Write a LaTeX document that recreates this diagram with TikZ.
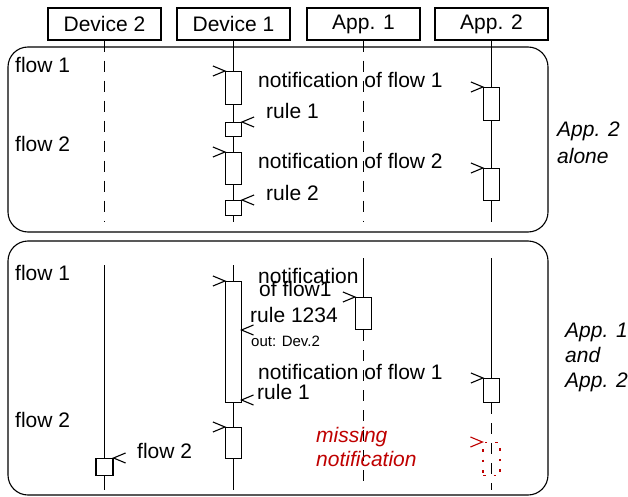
\documentclass[tikz,border=0pt]{standalone}
\usepackage{fontspec}
\setmainfont{Liberation Sans}
% open arrowhead pointing right, tip at #1 (message arriving at a box)
\newcommand\arrin[2][]{\draw[ln,#1] ([shift={(-12,-5)}]#2) -- (#2) -- ([shift={(-12,5)}]#2);}
% open arrowhead pointing left, tip at #1 (rule sent back)
\newcommand\arrout[2][]{\draw[ln,#1] ([shift={(12,-5)}]#2) -- (#2) -- ([shift={(12,5)}]#2);}
\begin{document}
\begin{tikzpicture}[x=1pt,y=-1pt,
  every node/.style={font=\fontsize{21}{25}\selectfont},
  ln/.style={line width=1.1pt, black},
  head/.style={draw, line width=1.1pt, minimum width=113pt, minimum height=32pt, inner sep=0pt},
  act/.style={draw, fill=white, line width=1.1pt, minimum width=16pt, inner sep=0pt, anchor=north},
  lifedash/.style={ln, dash pattern=on 11pt off 9pt},
  frame/.style={ln, rounded corners=20pt},
  lbl/.style={anchor=base west, inner sep=0pt},
  note/.style={lbl, font=\fontsize{21}{25}\selectfont\itshape},
  small/.style={lbl, font=\fontsize{15}{18}\selectfont},
  miss/.style={red!75!black},
]
\useasboundingbox (0,0) rectangle (628,497);

% participants
\node[head] (dev2) at (104.5,24) {Device 2};
\node[head] (dev1) at (233.5,24) {Device 1};
\node[head] (app1) at (363.5,24) {App. 1};
\node[head] (app2) at (491.5,24) {App. 2};

% the two scenarios
\draw[frame] (8,47) rectangle (548,232);
\draw[frame] (8,241) rectangle (548,495);

% ---------- scenario 1: App. 2 alone ----------
\coordinate (t-d2e) at (104.5,222);
\coordinate (t-d1e) at (233.5,222);
\coordinate (t-a1e) at (363.5,222);
\coordinate (t-a2e) at (491.5,222);
\draw[lifedash] (dev2.south) -- (t-d2e);
\draw[ln] (dev1.south) -- (t-d1e);
\draw[lifedash] (app1.south) -- (t-a1e);
\draw[ln] (app2.south) -- (t-a2e);

\node[act, minimum height=33pt] (t-n1) at (233.5,71) {};
\node[act, minimum height=14pt] (t-r1) at (233.5,122) {};
\node[act, minimum height=32pt] (t-n2) at (233.5,152) {};
\node[act, minimum height=15pt] (t-r2) at (233.5,200) {};
\node[act, minimum height=33pt] (t-a1) at (491.5,87) {};
\node[act, minimum height=32pt] (t-a2) at (491.5,168) {};

\arrin{t-n1.north west}
\arrout{t-r1.north east}
\arrin{t-n2.north west}
\arrout{t-r2.north east}
\arrin{t-a1.north west}
\arrin{t-a2.north west}

\node[lbl] (t-f1) at (15,73) {flow 1};
\node[lbl] (t-f2) at (15,152) {flow 2};
\node[lbl] (t-l1) at (258,88) {notification of flow 1};
\node[lbl] (t-l2) at (266,119) {rule 1};
\node[lbl] (t-l3) at (258,168) {notification of flow 2};
\node[lbl] (t-l4) at (266,200) {rule 2};
\node[note] (t-c1) at (557,137) {App. 2};
\node[note] (t-c2) at (557,164) {alone};

% ---------- scenario 2: App. 1 and App. 2 ----------
\coordinate (b-d2s) at (104.5,265);
\coordinate (b-d2e) at (104.5,490);
\coordinate (b-d1s) at (233.5,265);
\coordinate (b-d1e) at (233.5,490);
\coordinate (b-a1s) at (363.5,258);
\coordinate (b-a1e) at (363.5,490);
\coordinate (b-a2s) at (491.5,258);
\coordinate (b-a2e) at (491.5,490);

\node[act, minimum height=32pt] (b-ap1) at (363.5,297) {};
\node[act, minimum height=24pt] (b-ap2) at (491.5,378) {};
\draw[ln] (b-d2s) -- (b-d2e);
\draw[ln] (b-d1s) -- (b-d1e);
\draw[ln] (b-a1s) -- (b-ap1.north);
\draw[lifedash] (b-ap1.south) -- (b-a1e);
\draw[ln] (b-a2s) -- (b-ap2.north);
\draw[lifedash] (b-ap2.south) -- (b-a2e);

\node[act, minimum height=121pt] (b-big) at (233.5,281) {};
\node[act, minimum height=31pt] (b-d1b) at (233.5,427) {};
\node[act, minimum height=17pt, minimum width=17pt] (b-d2b) at (104.5,458) {};
\node[draw=red!75!black, line width=1.1pt, dash pattern=on 2.5pt off 8pt,
      minimum width=17pt, minimum height=33pt, inner sep=0pt, anchor=north] (b-lost) at (491.5,442) {};

\coordinate (b-rk) at (241.5,330);
\coordinate (b-r1) at (241.5,400);
\arrin{b-big.north west}
\arrin{b-ap1.north west}
\arrin{b-ap2.north west}
\arrin{b-d1b.north west}
\arrin[miss]{b-lost.north west}
\arrout{b-rk}
\arrout{b-r1}
\arrout{b-d2b.north east}

\node[lbl] (b-f1) at (15,280) {flow 1};
\node[lbl] (b-f2) at (15,427) {flow 2};
\node[lbl] (b-f2b) at (137,458) {flow 2};
\node[lbl] (b-n1a) at (258,283) {notification};
\node[lbl] (b-n1b) at (259,296) {of flow1};
\node[lbl] (b-rl) at (250,322) {rule 1234};
\node[small] (b-out) at (251,346) {out: Dev.2};
\node[lbl] (b-n2) at (258,379) {notification of flow 1};
\node[lbl] (b-rl1) at (257,399) {rule 1};
\node[note, miss] (b-m1) at (316,442) {missing};
\node[note, miss] (b-m2) at (316,466) {notification};
\node[note] (b-c1) at (565,337) {App. 1};
\node[note] (b-c2) at (565,362) {and};
\node[note] (b-c3) at (565,387) {App. 2};
\end{tikzpicture}
\end{document}
